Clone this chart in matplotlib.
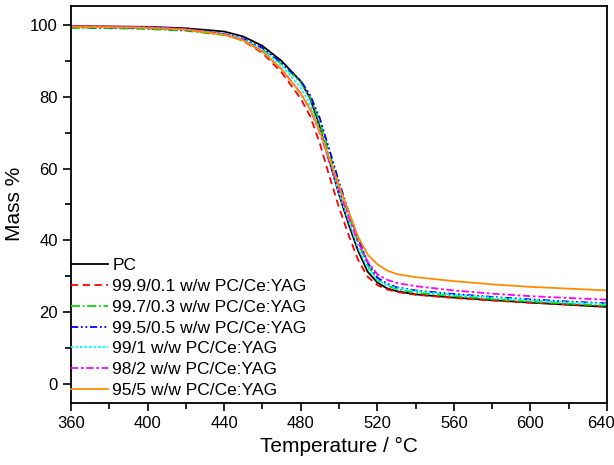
import numpy as np
import matplotlib
matplotlib.use("Agg")
import matplotlib.pyplot as plt
from matplotlib.ticker import MultipleLocator
from matplotlib.transforms import ScaledTranslation

plt.rcParams['font.family'] = ['Liberation Sans', 'DejaVu Sans']

# temperature grid (deg C)
temp = [360, 380, 400, 420, 440, 450, 460, 470, 480, 485, 490, 495, 500,
        505, 510, 515, 520, 525, 530, 540, 560, 580, 600, 620, 640]

# mass %
pc = [99.7, 99.6, 99.5, 99.1, 98.2, 96.8, 94.2, 90.0, 84.3, 79.5, 71.5, 62.0, 52.8,
      44.5, 37.0, 31.2, 28.2, 26.6, 25.8, 24.9, 24.0, 23.3, 22.6, 22.0, 21.4]
ce01 = [99.6, 99.5, 99.3, 98.8, 97.5, 95.6, 92.2, 86.8, 79.5, 74.5, 67.0, 57.8, 49.2,
        41.5, 34.5, 29.8, 27.5, 26.3, 25.6, 24.8, 23.9, 23.2, 22.6, 22.1, 21.6]
ce03 = [99.2, 99.1, 98.9, 98.4, 97.2, 95.8, 93.2, 89.2, 84.0, 79.8, 73.0, 64.2, 55.3,
        47.0, 39.5, 33.0, 29.0, 27.4, 26.4, 25.4, 24.4, 23.6, 22.9, 22.3, 21.8]
ce05 = [99.4, 99.3, 99.1, 98.6, 97.5, 96.2, 93.6, 89.5, 84.5, 80.4, 74.0, 65.2, 56.3,
        48.0, 40.5, 33.8, 29.6, 27.9, 26.9, 26.0, 25.0, 24.2, 23.5, 22.9, 22.4]
ce1 = [99.6, 99.5, 99.3, 98.8, 97.6, 96.0, 93.0, 88.7, 82.5, 77.8, 70.8, 61.8, 53.2,
       45.5, 38.0, 32.3, 28.9, 27.5, 26.7, 25.8, 24.8, 24.0, 23.3, 22.7, 22.2]
ce2 = [99.7, 99.6, 99.4, 98.9, 97.5, 95.8, 92.6, 87.7, 81.0, 76.5, 70.0, 62.0, 54.2,
       46.5, 39.5, 34.0, 30.5, 29.0, 28.1, 27.2, 26.0, 25.1, 24.4, 23.9, 23.4]
ce5 = [99.5, 99.4, 99.2, 98.7, 97.3, 95.7, 92.6, 87.7, 81.0, 76.5, 70.3, 62.8, 55.2,
       48.0, 41.0, 36.0, 33.3, 31.6, 30.6, 29.7, 28.6, 27.7, 27.0, 26.5, 26.0]

labels = ["PC", "99.9/0.1 w/w PC/Ce:YAG", "99.7/0.3 w/w PC/Ce:YAG",
          "99.5/0.5 w/w PC/Ce:YAG", "99/1 w/w PC/Ce:YAG",
          "98/2 w/w PC/Ce:YAG", "95/5 w/w PC/Ce:YAG"]
series = [pc, ce01, ce03, ce05, ce1, ce2, ce5]
colors = ["black", "red", "#00dd00", "blue", "cyan", "magenta", "#ff8c00"]
styles = ["-", (0, (4, 2.5)), (0, (5, 1.5, 1, 1.5)), (0, (4, 1.5, 1, 1.5, 1, 1.5)),
          (0, (1.5, 1)), (0, (4, 1.5, 1.5, 1.5)), "-"]

xticks = [360, 400, 440, 480, 520, 560, 600, 640]

fig = plt.figure(figsize=(6.14, 4.65), dpi=100)
ax = fig.add_axes([0.1156, 0.134, 0.873, 0.853])

for y, lab, c, ls in zip(series, labels, colors, styles):
    ax.plot(temp, y, color=c, linestyle=ls, linewidth=1.3, label=lab)

ax.set_xlim(360, 640)
ax.set_ylim(-5.3, 105.3)
ax.set_xticks(xticks)
ax.xaxis.set_minor_locator(MultipleLocator(20))
ax.yaxis.set_major_locator(MultipleLocator(20))
ax.yaxis.set_minor_locator(MultipleLocator(10))
ax.tick_params(which='major', direction='out', length=6, width=1.2, labelsize=12)
ax.tick_params(which='minor', direction='out', length=4, width=1.2)
for s in ax.spines.values():
    s.set_linewidth(1.3)

# nudge the last x label so it stays inside the image
last = ax.get_xticklabels()[-1]
last.set_transform(last.get_transform() + ScaledTranslation(-6 / 100, 0, fig.dpi_scale_trans))

ax.set_xlabel("Temperature / \u00b0C", fontsize=15)
ax.set_ylabel("Mass %", fontsize=15)

ax.legend(loc='lower left', bbox_to_anchor=(-0.02, -0.015), frameon=False,
          fontsize=12.5, handlelength=2.15, handletextpad=0.25,
          labelspacing=0.33, borderaxespad=0.2)

fig.savefig("out.png", dpi=100)
